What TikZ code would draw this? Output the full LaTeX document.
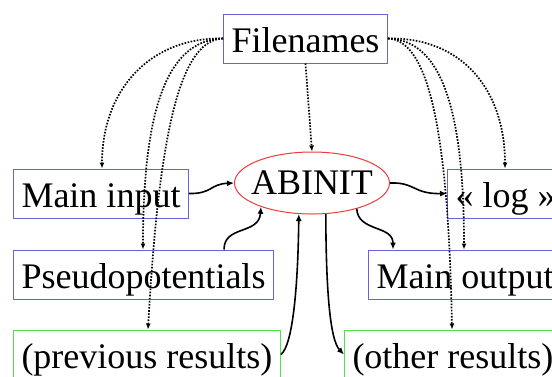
\documentclass[tikz,border=0pt]{standalone}
\usepackage{fontspec}
\setmainfont{Liberation Serif}
\usetikzlibrary{shapes.geometric,arrows.meta}
\definecolor{boxblue}{RGB}{100,100,225}
\definecolor{boxgreen}{RGB}{80,225,80}
\definecolor{ellred}{RGB}{235,60,60}
\begin{document}
\begin{tikzpicture}[x=1pt,y=-1pt,
  every node/.style={font=\fontsize{36}{40}\selectfont},
  fbox/.style={draw=boxblue, line width=1pt, inner xsep=8pt, inner ysep=0pt,
    text height=27pt, text depth=0pt, minimum height=49pt, anchor=west},
  gbox/.style={fbox, draw=boxgreen},
  dotarrow/.style={line width=1.7pt, dash pattern=on 1.6pt off 1.5pt,
    -{Latex[length=6pt,width=5pt]}},
  solidarrow/.style={line width=1.6pt, -{Latex[length=7pt,width=6pt]}}]
\useasboundingbox (0,0) rectangle (552,376);
\clip (0,0) rectangle (552,376);
\node[fbox] (fn) at (223,38.5) {Filenames};
\node[fbox] (mi) at (13,193.5) {Main input};
\node[fbox] (pp) at (13,274.5) {Pseudopotentials};
\node[gbox] (pr) at (13,354.5) {(previous results)};
\node[fbox] (lg) at (447,193.5) {« log »};
\node[fbox] (mo) at (368,274.5) {Main output};
\node[gbox] (ot) at (344,354.5) {(other results)};
\node[ellipse, draw=ellred, line width=1pt, minimum width=155pt, minimum height=62pt,
  inner sep=0pt, label={center:ABINIT}] (ab) at (312,183) {};
% dotted connectors from Filenames
\draw[dotarrow] (fn.west) .. controls (150,37) and (102,90) .. ([xshift=89pt]mi.north west);
\draw[dotarrow] (fn.west) .. controls (175,40) and (143,90) .. ([xshift=130pt]pp.north west);
\draw[dotarrow] (fn.west) .. controls (185,40) and (160,110) .. ([xshift=135pt]pr.north west);
\draw[dotarrow] (fn.east) .. controls (462,37) and (505,90) .. ([xshift=58pt]lg.north west);
\draw[dotarrow] (fn.east) .. controls (434,40) and (464,90) .. ([xshift=96pt]mo.north west);
\draw[dotarrow] (fn.east) .. controls (424,40) and (448,110) .. ([xshift=108pt]ot.north west);
\draw[dotarrow] (fn.south) -- (ab.north);
% solid connectors
\draw[solidarrow] (mi.east) .. controls (212,194) and (210,184) .. (ab.west);
\draw[solidarrow] (ab.east) .. controls (415,182) and (413,194) .. (lg.west);
\draw[solidarrow] ([xshift=211pt]pp.north west) .. controls (224,225) and (259,235) .. (ab.205);
\draw[solidarrow] (pr.east) .. controls (293,345) and (298,285) .. (ab.247);
\draw[solidarrow] (ab.294) .. controls (326,290) and (330,340) .. (ot.west);
\draw[solidarrow] (ab.330) .. controls (358,232) and (393,225) .. ([xshift=25pt]mo.north west);
\end{tikzpicture}
\end{document}
